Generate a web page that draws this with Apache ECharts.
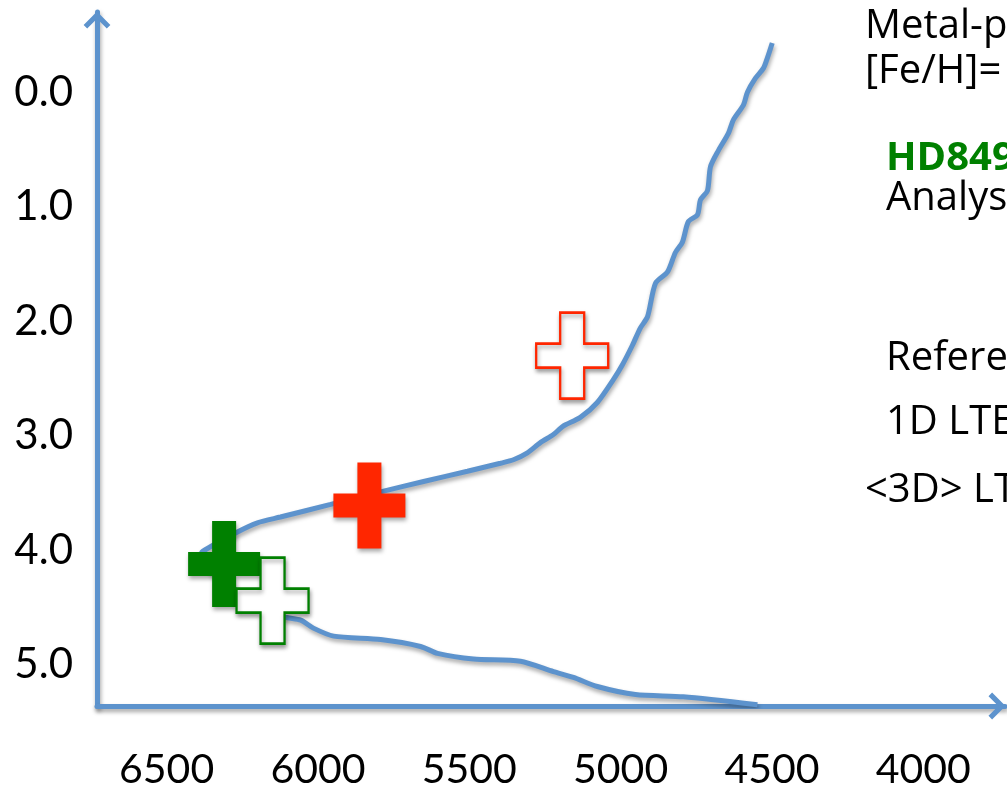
<!DOCTYPE html>
<html>
<head>
<meta charset="utf-8">
<title>HD84937 Teff - log g</title>
<script src="https://cdn.jsdelivr.net/npm/echarts@6/dist/echarts.min.js"></script>
<style>
  html, body { margin: 0; padding: 0; background: #ffffff; }
  #chart { width: 1007px; height: 793px; }
</style>
</head>
<body>
<div id="chart"></div>
<script>
// Isochrone track: effective temperature (K) and surface gravity (log g)
const trackTeff = [
  4499, 4515, 4528, 4555, 4581, 4594, 4627, 4644, 4677, 4703,
  4713, 4736, 4746, 4776, 4796, 4819, 4845, 4885, 4911, 4935,
  4961, 4994, 5024, 5077, 5133, 5192, 5222, 5265, 5308, 5354,
  5397, 5506, 5651, 5793, 5958, 6124, 6200, 6266, 6381, 6388,
  6338, 6223, 6114, 6057, 6015, 5948, 5793, 5661, 5605, 5486,
  5331, 5222, 5156, 5077, 4951, 4793, 4548
];
const trackLogg = [
  -0.43, -0.30, -0.21, -0.12, 0.00, 0.11, 0.24, 0.36, 0.51, 0.65,
  0.86, 0.94, 1.07, 1.13, 1.31, 1.40, 1.57, 1.67, 1.96, 2.06,
  2.21, 2.38, 2.51, 2.71, 2.84, 2.92, 2.99, 3.06, 3.15, 3.21,
  3.24, 3.31, 3.40, 3.49, 3.60, 3.71, 3.76, 3.84, 4.01, 4.05,
  4.21, 4.43, 4.58, 4.61, 4.68, 4.75, 4.78, 4.84, 4.90, 4.95,
  4.97, 5.06, 5.11, 5.19, 5.26, 5.28, 5.35
];

// Stellar parameter estimates [Teff, log g]
const redFilled   = [5830, 3.61];
const redOpen     = [5160, 2.30];
const greenFilled = [6310, 4.12];
const greenOpen   = [6150, 4.44];

// Tick values shown on the axes
const xTicks = [6500, 6000, 5500, 5000, 4500, 4000];
const yTicks = [0, 1, 2, 3, 4, 5];

const BLUE = '#5D93CD';
const RED = '#FF2600';
const GREEN = '#008000';
const AXIS_FONT = 'Lato';
const TEXT_FONT = '"Open Sans"';

const crossPath = 'path://M24,0L48,0L48,31L72,31L72,55L48,55L48,86L24,86L24,55L0,55L0,31L24,31Z';
const arrowUp = 'path://M13,0L26,13L22.5,16.5L13,7L3.5,16.5L0,13Z';

const shadow = {
  shadowColor: 'rgba(0,0,0,0.35)',
  shadowBlur: 4,
  shadowOffsetX: 1,
  shadowOffsetY: 3
};

const trackData = trackTeff.map((t, i) => [t, trackLogg[i]]);

function crossSeries(point, fill, stroke) {
  return {
    type: 'scatter',
    data: [point],
    symbol: crossPath,
    symbolSize: [72, 86],
    itemStyle: Object.assign({
      color: fill,
      borderColor: stroke,
      borderWidth: fill === '#ffffff' ? 2.5 : 0,
      opacity: 1
    }, shadow),
    emphasis: { disabled: true },
    z: 3
  };
}

const chart = echarts.init(document.getElementById('chart'), null, { renderer: 'canvas' });

chart.setOption({
  animation: false,
  backgroundColor: '#ffffff',
  grid: { left: 97, right: 2, top: 12, bottom: 87, containLabel: false },
  xAxis: {
    type: 'value',
    inverse: true,
    min: 3730,
    max: 6730,
    axisLine: {
      show: true,
      onZero: false,
      symbol: ['none', arrowUp],
      symbolSize: [27, 17],
      symbolOffset: [0, -8],
      lineStyle: Object.assign({ color: BLUE, width: 5 }, shadow)
    },
    axisTick: { show: false },
    splitLine: { show: false },
    axisLabel: {
      customValues: xTicks,
      formatter: v => String(v),
      color: '#000000',
      fontFamily: AXIS_FONT,
      fontSize: 41,
      margin: 43
    }
  },
  yAxis: {
    type: 'value',
    inverse: true,
    min: -0.70,
    max: 5.36,
    axisLine: {
      show: true,
      onZero: false,
      symbol: ['none', arrowUp],
      symbolSize: [27, 17],
      symbolOffset: [0, -8],
      lineStyle: Object.assign({ color: BLUE, width: 5 }, shadow)
    },
    axisTick: { show: false },
    splitLine: { show: false },
    axisLabel: {
      customValues: yTicks,
      formatter: v => v.toFixed(1),
      color: '#000000',
      fontFamily: AXIS_FONT,
      fontSize: 42,
      margin: 24
    }
  },
  series: [
    {
      type: 'line',
      data: trackData,
      showSymbol: false,
      smooth: 0.25,
      lineStyle: Object.assign({ color: BLUE, width: 5 }, shadow),
      emphasis: { disabled: true },
      z: 2
    },
    crossSeries(redFilled, RED, RED),
    crossSeries(redOpen, '#ffffff', RED),
    crossSeries(greenFilled, GREEN, GREEN),
    crossSeries(greenOpen, '#ffffff', GREEN)
  ],
  graphic: [
    { type: 'text', left: 865, top: 7,   style: { text: 'Metal-poor', font: '40px ' + TEXT_FONT, fill: '#000' } },
    { type: 'text', left: 865, top: 52,  style: { text: '[Fe/H]=', font: '40px ' + TEXT_FONT, fill: '#000' } },
    { type: 'text', left: 886, top: 139, style: { text: 'HD84937', font: 'bold 40px ' + TEXT_FONT, fill: GREEN } },
    { type: 'text', left: 886, top: 179, style: { text: 'Analysis', font: '40px ' + TEXT_FONT, fill: '#000' } },
    { type: 'text', left: 886, top: 339, style: { text: 'Reference', font: '40px ' + TEXT_FONT, fill: '#000' } },
    { type: 'text', left: 886, top: 403, style: { text: '1D LTE', font: '40px ' + TEXT_FONT, fill: '#000' } },
    { type: 'text', left: 865, top: 471, style: { text: '<3D> LTE', font: '40px ' + TEXT_FONT, fill: '#000' } }
  ]
});
</script>
</body>
</html>
